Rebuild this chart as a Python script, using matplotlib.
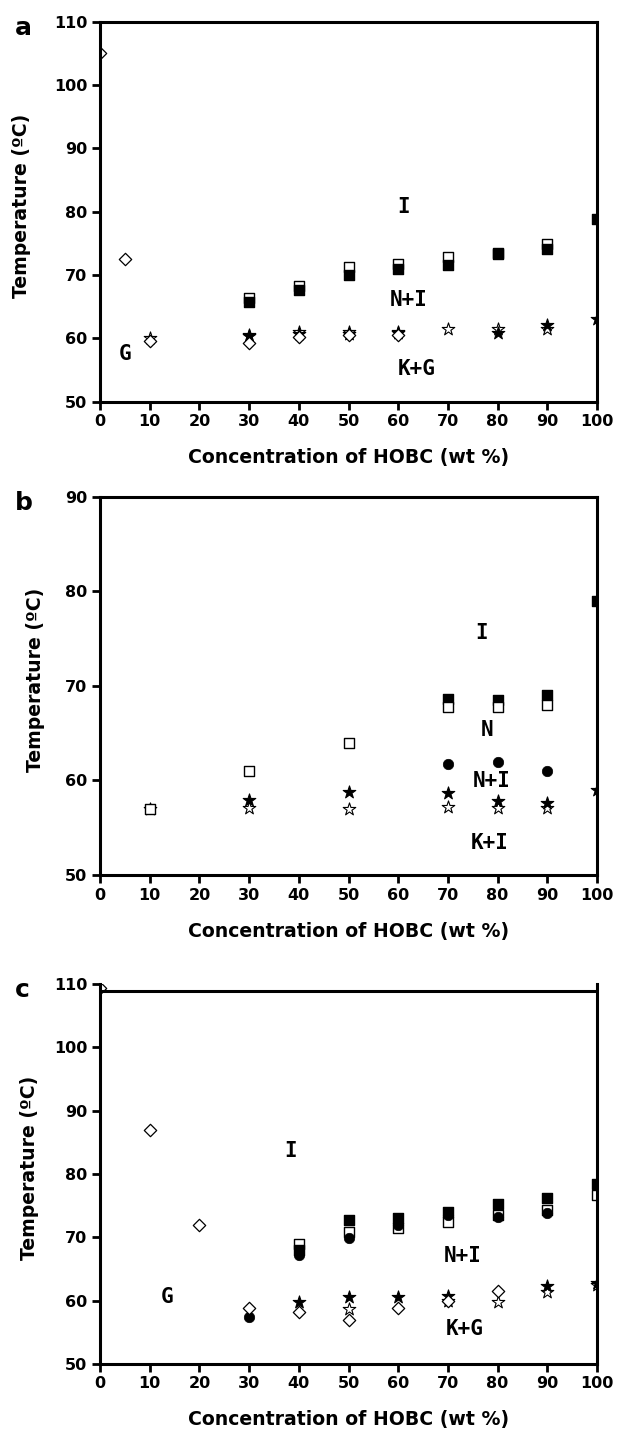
import matplotlib
matplotlib.use("Agg")
import matplotlib.pyplot as plt

# ---- panel a ----
a_x_dia = [0, 5, 10, 30, 40, 50, 60]
a_dia = [105.0, 72.5, 59.6, 59.3, 60.2, 60.6, 60.6]
a_x_osq = [30, 40, 50, 60, 70, 80, 90]
a_osq = [66.4, 68.2, 71.2, 71.8, 72.8, 73.5, 74.9]
a_x_fsq = [30, 40, 50, 60, 70, 80, 90, 100]
a_fsq = [65.8, 67.6, 70.0, 70.9, 71.6, 73.3, 74.1, 78.8]
a_x_ost = [10, 30, 40, 50, 60, 70, 80, 90]
a_ost = [60.0, 60.5, 61.0, 61.0, 61.0, 61.5, 61.5, 61.5]
a_x_fst = [30, 40, 50, 60, 80, 90, 100]
a_fst = [60.3, 60.7, 60.7, 60.8, 60.9, 62.1, 63.0]

# ---- panel b ----
b_x_osq = [10, 30, 50, 70, 80, 90]
b_osq = [57.0, 61.0, 64.0, 67.8, 67.8, 68.0]
b_x_fsq = [70, 80, 90, 100]
b_fsq = [68.6, 68.5, 69.0, 79.0]
b_x_fci = [70, 80, 90]
b_fci = [61.7, 62.0, 61.0]
b_x_fst = [30, 50, 70, 80, 90, 100]
b_fst = [57.9, 58.8, 58.7, 57.8, 57.6, 59.0]
b_x_ost = [10, 30, 50, 70, 80, 90]
b_ost = [57.0, 57.1, 57.0, 57.2, 57.1, 57.1]

# ---- panel c ----
c_x_dia = [0, 10, 20, 30, 40, 50, 60, 70, 80]
c_dia = [109.3, 86.9, 71.9, 58.9, 58.2, 56.9, 58.8, 59.9, 61.6]
c_x_osq = [40, 50, 60, 70, 80, 90, 100]
c_osq = [69.0, 70.9, 71.4, 72.4, 73.6, 74.3, 76.7]
c_x_fsq = [40, 50, 60, 70, 80, 90, 100]
c_fsq = [68.0, 72.8, 73.0, 74.0, 75.2, 76.2, 78.5]
c_x_fci = [30, 40, 50, 60, 70, 80, 90]
c_fci = [57.5, 67.2, 69.9, 71.9, 73.5, 73.2, 73.9]
c_x_fst = [40, 50, 60, 70, 90, 100]
c_fst = [59.8, 60.6, 60.6, 60.8, 62.3, 62.8]
c_x_ost = [50, 70, 80, 90, 100]
c_ost = [58.7, 60.0, 59.8, 61.4, 62.5]

W, H = 622, 1429
fig = plt.figure(figsize=(W / 100, H / 100), dpi=100)


def px_axes(top, bottom):
    # axes rectangle from pixel rows
    return fig.add_axes([100 / W, 1 - bottom / H, 497 / W, (bottom - top) / H])


# scatter sizes (points^2); scatter clips half-markers on the frame like the original
s_sq = 7 ** 2
s_dia = 6.3 ** 2
s_st = 9.5 ** 2
s_ci = 7.5 ** 2


def osq(ax, x, y):
    ax.scatter(x, y, s=s_sq, marker="s", c="white", edgecolors="black", linewidths=1.0)


def fsq(ax, x, y):
    ax.scatter(x, y, s=s_sq, marker="s", c="black", edgecolors="black", linewidths=1.0)


def ost(ax, x, y):
    ax.scatter(x, y, s=s_st, marker="*", c="white", edgecolors="black", linewidths=0.8)


def fst(ax, x, y):
    ax.scatter(x, y, s=s_st, marker="*", c="black", edgecolors="black", linewidths=0.8)


def dia(ax, x, y):
    ax.scatter(x, y, s=s_dia, marker="D", c="white", edgecolors="black", linewidths=0.9)


def fci(ax, x, y):
    ax.scatter(x, y, s=s_ci, marker="o", c="black", edgecolors="black", linewidths=0.5)


def style(ax, ymax, letter, ylab_x):
    ax.set_xlim(0, 100)
    ax.set_ylim(50, ymax)
    ax.set_xticks(range(0, 101, 10))
    ax.set_yticks(range(50, ymax + 1, 10))
    for s in ax.spines.values():
        s.set_linewidth(2.2)
    ax.tick_params(direction="out", length=6, width=2, labelsize=11.5, pad=3)
    for lab in ax.get_xticklabels() + ax.get_yticklabels():
        lab.set_fontweight("bold")
    ax.set_xlabel("Concentration of HOBC (wt %)", fontsize=13.6, fontweight="bold")
    ax.set_ylabel("Temperature (ºC)", fontsize=13.6, fontweight="bold")
    h = ax.get_position().height * H
    ax.xaxis.label.set_va("center")
    ax.xaxis.set_label_coords(0.5, -56 / h)
    ax.yaxis.label.set_va("center")
    ax.yaxis.set_label_coords((ylab_x - 100) / 497, 0.515)
    ax.text(-85 / 497, 1 - 6 / h, letter, transform=ax.transAxes, fontsize=18,
            fontweight="bold", ha="left", va="center")


lab_kw = dict(fontsize=15, fontweight="bold", family="DejaVu Sans Mono",
              ha="center", va="center")

# panel a
ax = px_axes(21.7, 401.7)
osq(ax, a_x_osq, a_osq)
fsq(ax, a_x_fsq, a_fsq)
ost(ax, a_x_ost, a_ost)
fst(ax, a_x_fst, a_fst)
dia(ax, a_x_dia, a_dia)
ax.text(61, 80.8, "I", **lab_kw)
ax.text(62.2, 66.1, "N+I", **lab_kw)
ax.text(5, 57.6, "G", **lab_kw)
ax.text(63.8, 55.1, "K+G", **lab_kw)
style(ax, 110, "a", 22)

# panel b
ax = px_axes(496.7, 875)
fsq(ax, b_x_fsq, b_fsq)
ost(ax, b_x_ost, b_ost)
osq(ax, b_x_osq, b_osq)
fci(ax, b_x_fci, b_fci)
fst(ax, b_x_fst, b_fst)
ax.text(76.8, 75.6, "I", **lab_kw)
ax.text(77.8, 65.3, "N", **lab_kw)
ax.text(78.8, 59.9, "N+I", **lab_kw)
ax.text(78.5, 53.4, "K+I", **lab_kw)
style(ax, 90, "b", 36)

# panel c
ax = px_axes(984, 1364)
osq(ax, c_x_osq, c_osq)
fsq(ax, c_x_fsq, c_fsq)
fci(ax, c_x_fci, c_fci)
ost(ax, c_x_ost, c_ost)
fst(ax, c_x_fst, c_fst)
dia(ax, c_x_dia, c_dia)
ax.text(38.4, 83.6, "I", **lab_kw)
ax.text(73, 67.0, "N+I", **lab_kw)
ax.text(13.4, 60.6, "G", **lab_kw)
ax.text(73.4, 55.5, "K+G", **lab_kw)
style(ax, 110, "c", 30)
# the top frame line of this panel sits a little below 110
ax.spines["top"].set_visible(False)
ax.axhline(108.9, color="black", lw=2.2, zorder=1.5)

fig.savefig("out.png", dpi=100)
